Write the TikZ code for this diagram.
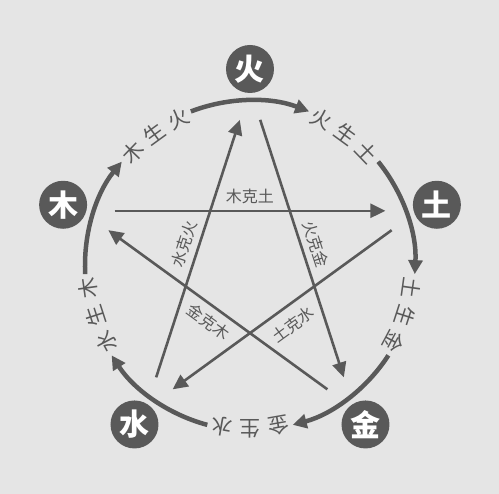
\documentclass[tikz,border=0pt]{standalone}
\usepackage{fontspec}
\newfontfamily\cjk{Noto Sans CJK SC}
\usetikzlibrary{arrows.meta}
\definecolor{bg}{gray}{0.9}
\definecolor{ink}{gray}{0.35}
\begin{document}
\begin{tikzpicture}[x=1pt,y=1pt,
  elem/.style={circle, fill=ink, minimum size=48pt, inner sep=0pt, text=white,
    font=\cjk\bfseries\fontsize{30}{30}\selectfont},
  sheng/.style={draw=ink, line width=4.5pt, -{Triangle[length=14pt,width=14pt]}},
  ke/.style={draw=ink, line width=2.6pt, -{Triangle[length=15pt,width=14pt]}},
  shenglbl/.style={text=ink, font=\cjk\fontsize{21}{21}\selectfont, inner sep=0pt},
  kelbl/.style={text=ink, font=\cjk\fontsize{16}{16}\selectfont, inner sep=0pt},
]
\fill[bg] (-250,-228.5) rectangle (249,265.5);
\useasboundingbox (-250,-228.5) rectangle (249,265.5);
% elements
\foreach \n/\a/\c in {huo/90/火, tu/18/土, jin/-54/金, shui/-126/水, mu/162/木}{
  \node[elem] (\n) at (\a:196.5) {\c};
}
% generating cycle (arcs)
\foreach \n/\a in {huo/90, tu/18, jin/-54, shui/-126, mu/162}{
  \coordinate (\n-arcstart) at ({\a+21}:165);
  \draw[sheng] (\n-arcstart) arc[start angle={\a+21}, end angle={\a-21}, radius=165];
}
% generating labels
\foreach \m/\x/\y/\z in {126/木/生/火, 54/火/生/土, -18/土/生/金, -90/金/生/水, -162/水/生/木}{
  \node[shenglbl, rotate={\m+10-90}] at ({\m+10}:163) {\x};
  \node[shenglbl, rotate={\m-90}] at ({\m}:163) {\y};
  \node[shenglbl, rotate={\m-10-90}] at ({\m-10}:163) {\z};
}
% overcoming cycle (star)
\foreach \s/\e/\sa/\ea in {mu/tu/162/18, shui/huo/234/90, huo/jin/90/-54, tu/shui/18/-126, jin/mu/-54/162}{
  \coordinate (\s-\e-a) at ({\sa-4}:146);
  \coordinate (\s-\e-b) at ({\ea+4}:146);
  \draw[ke] (\s-\e-a) -- (\s-\e-b);
}
% overcoming labels
\foreach \p/\r/\d/\t in {0/0/69/木克土, 72/72/69/水克火, -72/-72/69/火克金, -144/36/73/土克水, 144/-36/70/金克木}{
  \node[kelbl, rotate=\r] at ({90+\p}:\d) {\t};
}
\end{tikzpicture}
\end{document}
